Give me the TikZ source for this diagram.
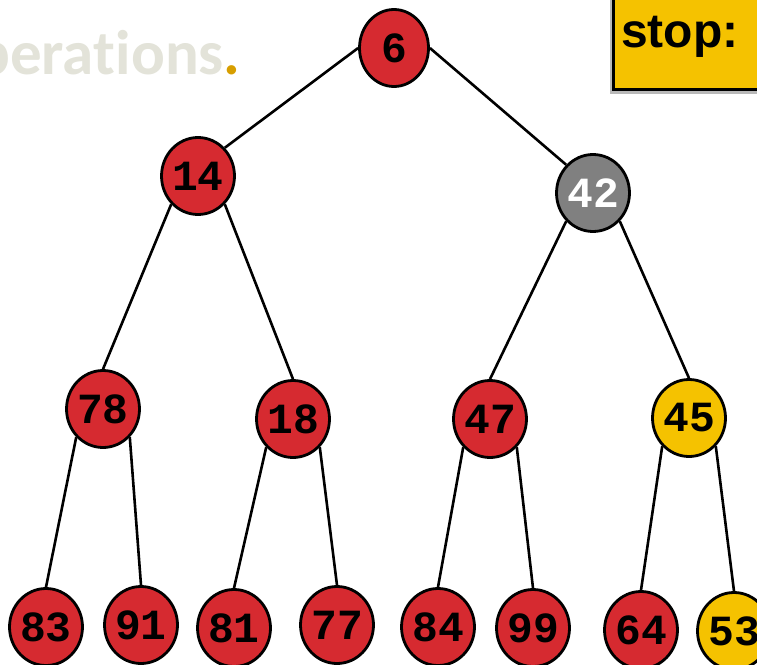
\documentclass[tikz,border=0pt]{standalone}
\usepackage{fontspec}
\setmainfont{Liberation Sans}
\newfontfamily\monob{Liberation Mono}[BoldFont={* Bold}]
\newfontfamily\carl{Carlito}[Ligatures={NoCommon,NoRequired,NoContextual},RawFeature={-liga;-clig;-calt}]
\usetikzlibrary{shapes.geometric}
\definecolor{nred}{RGB}{214,42,48}
\definecolor{ngray}{RGB}{128,128,128}
\definecolor{nyel}{RGB}{245,194,0}
\definecolor{ghost}{RGB}{227,227,217}
\definecolor{dotor}{RGB}{215,158,0}
\tikzset{
  tnode/.style={ellipse, draw=black, line width=2.8pt, minimum width=69pt, minimum height=77pt, inner sep=0pt, font=\monob\bfseries\fontsize{43}{43}\selectfont},
  rnode/.style={tnode, fill=nred, text=black},
  gnode/.style={tnode, fill=ngray, text=white},
  ynode/.style={tnode, fill=nyel, text=black},
  edge/.style={line width=2.6pt, black}
}
\begin{document}
\begin{tikzpicture}[x=1pt,y=-1pt]
\useasboundingbox (0,0) rectangle (757,664);
\node[anchor=base east, inner sep=0pt, font=\carl\bfseries\fontsize{63}{63}\selectfont, text=ghost] (title) at (241,74) {pera\hbox{t}\hbox{i}ons\textcolor{dotor}{.}};
\fill[gray!55] (610,-5) rectangle (770,93.5);
\node[draw=black, line width=2.8pt, fill=nyel, minimum width=160pt, minimum height=100pt, anchor=south west, inner sep=0pt] (stopbox) at (612,91) {};
\node[anchor=base west, inner sep=0pt, font=\bfseries\fontsize{48}{48}\selectfont] (stoptxt) at (621,47) {stop:};
\node[rnode] (n6) at (394,48) {6};
\node[rnode] (n14) at (198,176) {14};
\node[gnode] (n42) at (593,193) {42};
\node[rnode] (n78) at (103,409) {78};
\node[rnode] (n18) at (293,419) {18};
\node[rnode] (n47) at (490,419) {47};
\node[ynode] (n45) at (689,418) {45};
\node[rnode] (n83) at (46,627) {83};
\node[rnode] (n91) at (141,625) {91};
\node[rnode] (n81) at (234,628) {81};
\node[rnode] (n77) at (337,625) {77};
\node[rnode] (n84) at (438,627) {84};
\node[rnode] (n99) at (533,628) {99};
\node[rnode] (n64) at (641,630) {64};
\node[ynode] (n53) at (734,631) {53};
\draw[edge] (n6.west) -- (n14.north east);
\draw[edge] (n6.east) -- (n42.north west);
\draw[edge] (n14.south west) -- (n78.north);
\draw[edge] (n14.south east) -- (n18.north);
\draw[edge] (n42.south west) -- (n47.north);
\draw[edge] (n42.south east) -- (n45.north);
\draw[edge] (n78.south west) -- (n83.north);
\draw[edge] (n78.south east) -- (n91.north);
\draw[edge] (n18.south west) -- (n81.north);
\draw[edge] (n18.south east) -- (n77.north);
\draw[edge] (n47.south west) -- (n84.north);
\draw[edge] (n47.south east) -- (n99.north);
\draw[edge] (n45.south west) -- (n64.north);
\draw[edge] (n45.south east) -- (n53.north);
\end{tikzpicture}
\end{document}
